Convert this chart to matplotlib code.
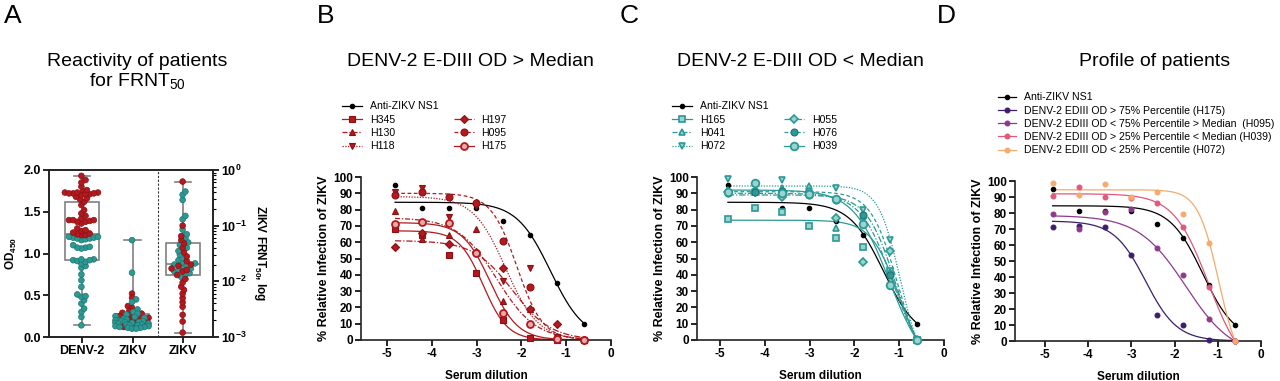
import numpy as np
import matplotlib.pyplot as plt
from matplotlib.lines import Line2D
from matplotlib.ticker import LogLocator, NullFormatter, FuncFormatter

plt.rcParams['font.family'] = ['Liberation Sans', 'DejaVu Sans']
plt.rcParams['mathtext.fontset'] = 'custom'
plt.rcParams['mathtext.rm'] = 'Liberation Sans'
plt.rcParams['mathtext.bf'] = 'Liberation Sans:bold'
plt.rcParams['mathtext.it'] = 'Liberation Sans:italic'
plt.rcParams['mathtext.default'] = 'regular'
plt.rcParams['axes.unicode_minus'] = False
plt.rcParams['axes.linewidth'] = 1.2
plt.rcParams['axes.edgecolor'] = '#222222'

RED = '#b3191e'
RED_EDGE = '#8a1014'
RED_LIGHT = '#e7a9a9'
TEAL = '#2b9a95'
TEAL_EDGE = '#1d7570'
TEAL_LIGHT = '#9ad3cf'
GREY = '#808080'

# ---- panel A: OD450 and ZIKV FRNT50 (red = above median, teal = below)
denv2_red = [1.93, 1.88, 1.85, 1.80, 1.76, 1.73, 1.72, 1.72, 1.71, 1.71, 1.70, 1.72,
             1.73, 1.74, 1.73, 1.68, 1.65, 1.66, 1.62, 1.58, 1.52, 1.48, 1.45, 1.42,
             1.40, 1.40, 1.40, 1.39, 1.38, 1.38, 1.36, 1.30, 1.28, 1.27, 1.25, 1.24,
             1.23, 1.22, 1.22]
denv2_teal = [1.20, 1.19, 1.18, 1.18, 1.17, 1.16, 1.20, 1.19, 1.10, 1.08, 1.07, 1.06,
              1.07, 0.93, 0.92, 0.91, 0.92, 0.90, 0.93, 0.88, 0.85, 0.83, 0.75, 0.68,
              0.60, 0.51, 0.49, 0.48, 0.44, 0.40, 0.34, 0.30, 0.24, 0.14]
zikv_red = [0.52, 0.47, 0.37, 0.35, 0.31, 0.29, 0.28, 0.26, 0.25, 0.23, 0.22, 0.21,
            0.20, 0.20, 0.19, 0.18, 0.17, 0.16, 0.15, 0.14, 0.12]
zikv_teal = [1.16, 0.77, 0.45, 0.42, 0.33, 0.30, 0.28, 0.27, 0.25, 0.24, 0.23, 0.22,
             0.21, 0.20, 0.20, 0.19, 0.19, 0.18, 0.18, 0.17, 0.17, 0.16, 0.16, 0.15,
             0.15, 0.14, 0.14, 0.13, 0.13, 0.12, 0.12, 0.11, 0.11, 0.10, 0.10]
frnt_red = [0.62, 0.10, 0.065, 0.055, 0.048, 0.040, 0.033, 0.028, 0.023, 0.020, 0.019,
            0.017, 0.016, 0.015, 0.013, 0.011, 0.0095, 0.008, 0.007, 0.006, 0.005,
            0.0042, 0.0035, 0.0025, 0.0019, 0.0012]
frnt_teal = [0.41, 0.36, 0.29, 0.15, 0.13, 0.085, 0.070, 0.060, 0.050, 0.045, 0.040,
             0.035, 0.030, 0.026, 0.024, 0.022, 0.021, 0.020, 0.019, 0.018, 0.017,
             0.016, 0.015, 0.014, 0.013, 0.012]

# ---- panels B-D: % relative infection vs log10 serum dilution
dilution = [-4.82, -4.21, -3.61, -3.01, -2.41, -1.81, -1.20, -0.60]
ns1 = [95, 81, 81, 81, 73, 64.5, 35, 10]
h345 = [68, 64.5, 52, 41, 12.5, 1.5, 0, 0]
h130 = [79, 62, 64.5, 68, 24, 19, 2.5, 0]
h118 = [91, 93, 75.5, 82, 36, 44, 2, 0]
h197 = [57, 65.5, 59, 54, 44, 19, 10, 0]
h095 = [89, 91, 88, 84, 61, 32.5, 1, 0]
h175 = [71, 72.5, 72, 53.5, 16.5, 10, 0.5, 0]
h165 = [74, 81, 78.5, 70, 62.5, 57, 42.5, 0]
h041 = [92, 91, 93, 94.5, 69, 76, 42, 0]
h072 = [98.5, 91, 98, 90, 93, 79.5, 61.5, 0]
h055 = [91, 91, 88, 91, 75, 48, 54.5, 0]
h076 = [90, 91, 91.5, 89, 86, 76.5, 40, 0]
h039 = [90.5, 96.5, 90, 89.5, 86.5, 71, 33.5, 0]
d_h175 = [71, 72, 71.5, 54, 16.5, 10, 0.5, 0]
d_h095 = [79.5, 70, 80.5, 82.5, 58, 41, 13.5, 0]

# fitted 4PL curves: (top, bottom, logIC50, hill)
fit_ns1 = (84.5, 0, -1.35, 1.15)
fit_h345 = (67, 0, -2.85, 1.6)
fit_h130 = (75, 0, -2.55, 1.0)
fit_h118 = (88, 0, -2.35, 1.2)
fit_h197 = (61, 0, -2.2, 1.0)
fit_h095 = (90, 0, -2.1, 1.5)
fit_h175 = (72, 0, -2.7, 1.4)
fit_h165 = (73.5, -20, -1.00, 1.40)
fit_h041 = (90, -20, -1.135, 1.22)
fit_h072 = (94.5, -20, -0.976, 1.79)
fit_h055 = (89, -20, -1.076, 1.36)
fit_h076 = (91, -20, -1.044, 1.48)
fit_h039 = (92, -20, -1.214, 1.08)
fit_d_h175 = (75, 0, -2.67, 1.19)
fit_d_h095 = (78.5, -10, -1.74, 0.79)


def logistic(x, top, bottom, logic50, hill):
    return bottom + (top - bottom) / (1 + 10 ** ((x - logic50) * hill))


def swarm_offsets(y_px, diam, max_off):
    y_px = np.asarray(y_px, dtype=float)
    xs = np.zeros(len(y_px))
    placed = []
    cands = np.arange(-max_off, max_off + 0.01, diam * 0.25)
    cands = sorted(cands, key=lambda c: (abs(c), -c))
    for i in np.argsort(y_px):
        y = y_px[i]
        near = [(px, py) for px, py in placed if abs(py - y) < diam]
        best, best_d = 0.0, -1
        for c in cands:
            d = min([np.hypot(c - px, y - py) for px, py in near] + [99])
            if d >= diam * 0.7:
                best = c
                break
            if d > best_d:
                best, best_d = c, d
        xs[i] = best
        placed.append((best, y))
    return xs


def bold_ticks(ax):
    for lbl in ax.get_xticklabels() + ax.get_yticklabels():
        lbl.set_fontweight('bold')


fig = plt.figure(figsize=(12.8, 3.81), dpi=100)

# ================= panel A =================
axA = fig.add_axes([49 / 1280, 44 / 381, 164 / 1280, 167 / 381])
axA2 = axA.twinx()
axA.set_xlim(-0.65, 2.59)
axA.set_ylim(0, 2.0)
axA2.set_yscale('log')
axA2.set_ylim(1e-3, 1)
PX_X = 50.5
DIAM = 5.5

bp_kw = dict(widths=0.66, whis=(0, 100), patch_artist=True, showfliers=False,
             boxprops=dict(facecolor='none', edgecolor=GREY, lw=1.2),
             whiskerprops=dict(color=GREY, lw=1.2),
             capprops=dict(color=GREY, lw=1.2),
             medianprops=dict(color=GREY, lw=1.2), zorder=1)
axA.boxplot([denv2_red + denv2_teal, zikv_red + zikv_teal], positions=[0, 1], **bp_kw)
axA2.boxplot([frnt_red + frnt_teal], positions=[2], **bp_kw)


def draw_swarm(ax, pos, red, teal, to_px, teal_on_top=False):
    vals = np.array(red + teal, dtype=float)
    cols = [RED] * len(red) + [TEAL] * len(teal)
    edges = [RED_EDGE] * len(red) + [TEAL_EDGE] * len(teal)
    off = swarm_offsets(to_px(vals), DIAM, 17) / PX_X
    order = np.arange(len(vals))
    if not teal_on_top:
        order = order[::-1]
    ax.scatter(pos + off[order], vals[order], s=17, c=[cols[k] for k in order],
               edgecolors=[edges[k] for k in order], linewidths=0.5, zorder=3,
               clip_on=False)


draw_swarm(axA, 0, denv2_red, denv2_teal, lambda v: v * 83.5)
draw_swarm(axA, 1, zikv_red, zikv_teal, lambda v: v * 83.5, teal_on_top=True)
draw_swarm(axA2, 2, frnt_red, frnt_teal, lambda v: np.log10(v) * 55.7)

axA.axvline(1.5, color='#333333', lw=0.8, ls=(0, (2, 1.5)))
axA.set_xticks([0, 1, 2])
axA.set_xticklabels(['DENV-2', 'ZIKV', 'ZIKV'], fontsize=9)
axA.set_yticks([0, 0.5, 1.0, 1.5, 2.0])
axA.set_yticklabels(['0.0', '0.5', '1.0', '1.5', '2.0'])
axA.tick_params(labelsize=9, width=1.2, length=4, pad=2)
axA2.yaxis.set_major_locator(LogLocator(base=10, numticks=10))
axA2.yaxis.set_minor_locator(LogLocator(base=10, subs=np.arange(2, 10), numticks=10))
axA2.yaxis.set_minor_formatter(NullFormatter())
axA2.yaxis.set_major_formatter(
    FuncFormatter(lambda v, p: r'$\mathbf{10^{%d}}$' % round(np.log10(v))))
axA2.tick_params(which='major', labelsize=9, width=1.2, length=4, pad=2)
axA2.tick_params(which='minor', width=0.8, length=2.5)
bold_ticks(axA)
bold_ticks(axA2)
axA.set_ylabel(r'OD$_{\mathbf{450}}$', fontsize=8.5, fontweight='bold', labelpad=3)
axA2.set_ylabel(r'ZIKV FRNT$_{\mathbf{50}}$, log', fontsize=8.5, fontweight='bold',
                rotation=270, labelpad=15)
fig.text(137 / 1280, 1 - 72 / 381, 'Reactivity of patients\nfor FRNT$_{50}$',
         ha='center', va='center', fontsize=14, linespacing=1.05)


# ================= panels B-D =================
def dose_axes(rect, xmin):
    ax = fig.add_axes(rect)
    ax.set_xlim(xmin, 0)
    ax.set_ylim(0, 100)
    ax.set_xticks(range(-5, 1))
    ax.set_yticks(range(0, 101, 10))
    ax.spines[['top', 'right']].set_visible(False)
    ax.tick_params(labelsize=8.5, width=1.2, length=4, pad=2)
    bold_ticks(ax)
    ax.set_ylabel('% Relative Infection of ZIKV', fontsize=9, fontweight='bold', labelpad=2)
    ax.set_xlabel('Serum dilution', fontsize=8.5, fontweight='bold', labelpad=7)
    return ax


xs = np.linspace(min(dilution), max(dilution), 300)


def series(ax, vals, fit, color, ls, marker, ms, mfc, mec, mew=0.8):
    curve = np.maximum(logistic(xs, *fit), 0)
    ax.plot(xs, curve, color=color, ls=ls, lw=0.9, zorder=2)
    ax.plot(dilution, vals, ls='none', marker=marker, ms=ms, mfc=mfc, mec=mec,
            mew=mew, zorder=3, clip_on=False)
    return Line2D([], [], color=color, ls=ls, lw=0.9, marker=marker, ms=ms,
                  mfc=mfc, mec=mec, mew=mew)


def ns1_series(ax):
    return series(ax, ns1, fit_ns1, 'black', '-', 'o', 3.2, 'black', 'black')


blank = Line2D([], [], color='none')
leg_kw = dict(frameon=False, fontsize=7.6, handlelength=1.9, handletextpad=0.7,
              labelspacing=0.32, columnspacing=1.5, borderpad=0, loc='upper left')

# ---- B
axB = dose_axes([361 / 1280, 41 / 381, 250 / 1280, 163 / 381], -5.58)
hb = [ns1_series(axB),
      series(axB, h345, fit_h345, RED, '-', 's', 5, RED, RED_EDGE),
      series(axB, h130, fit_h130, RED, (0, (4, 1.5, 1, 1.5)), '^', 5, RED, RED_EDGE),
      series(axB, h118, fit_h118, RED, (0, (1, 1.2)), 'v', 5, RED, RED_EDGE),
      blank,
      series(axB, h197, fit_h197, RED, (0, (5, 1.5, 1, 1.5)), 'D', 4, RED, RED_EDGE),
      series(axB, h095, fit_h095, RED, (0, (3, 2)), 'o', 5, RED, RED_EDGE),
      series(axB, h175, fit_h175, RED, '-', 'o', 5, RED_LIGHT, RED, 1.3)]
axB.legend(hb, ['Anti-ZIKV NS1', 'H345', 'H130', 'H118', '', 'H197', 'H095', 'H175'],
           ncol=2, bbox_to_anchor=(337 / 1280, 1 - 96 / 381),
           bbox_transform=fig.transFigure, **leg_kw)

# ---- C
axC = dose_axes([697 / 1280, 41 / 381, 247 / 1280, 163 / 381], -5.51)
hc = [ns1_series(axC),
      series(axC, h165, fit_h165, TEAL, '-', 's', 5, TEAL_LIGHT, TEAL, 1.2),
      series(axC, h041, fit_h041, TEAL, (0, (4, 1.5, 1, 1.5)), '^', 5, TEAL_LIGHT, TEAL, 1.2),
      series(axC, h072, fit_h072, TEAL, (0, (1, 1.2)), 'v', 5, TEAL_LIGHT, TEAL, 1.2),
      blank,
      series(axC, h055, fit_h055, TEAL, (0, (5, 1.5, 1, 1.5)), 'D', 4, TEAL_LIGHT, TEAL, 1.2),
      series(axC, h076, fit_h076, TEAL, (0, (3, 2)), 'o', 5, TEAL, TEAL_EDGE),
      series(axC, h039, fit_h039, TEAL, '-', 'o', 5.5, TEAL_LIGHT, TEAL, 1.3)]
axC.legend(hc, ['Anti-ZIKV NS1', 'H165', 'H041', 'H072', '', 'H055', 'H076', 'H039'],
           ncol=2, bbox_to_anchor=(667 / 1280, 1 - 96 / 381),
           bbox_transform=fig.transFigure, **leg_kw)

# ---- D
D_COLORS = ['#3b1e6e', '#8e3a8c', '#e0587a', '#f6aa6c']
axD = dose_axes([1015 / 1280, 40 / 381, 246 / 1280, 160 / 381], -5.69)
hd = [ns1_series(axD)]
for vals, fit, col in zip([d_h175, d_h095, h039, h072],
                          [fit_d_h175, fit_d_h095, fit_h039, fit_h072], D_COLORS):
    hd.append(series(axD, vals, fit, col, '-', 'o', 3.5, col, col))
axD.legend(hd, ['Anti-ZIKV NS1',
                'DENV-2 EDIII OD > 75% Percentile (H175)',
                'DENV-2 EDIII OD < 75% Percentile > Median  (H095)',
                'DENV-2 EDIII OD > 25% Percentile < Median (H039)',
                'DENV-2 EDIII OD < 25% Percentile (H072)'],
           bbox_to_anchor=(993 / 1280, 1 - 87 / 381), bbox_transform=fig.transFigure,
           **dict(leg_kw, handlelength=1.7, labelspacing=0.31))

# titles and panel letters
for x, t in [(470, 'DENV-2 E-DIII OD > Median'), (800, 'DENV-2 E-DIII OD < Median'),
             (1155, 'Profile of patients')]:
    fig.text(x / 1280, 1 - 62 / 381, t, ha='center', va='center', fontsize=14)
for x, t in [(13, 'A'), (326, 'B'), (629, 'C'), (946, 'D')]:
    fig.text(x / 1280, 1 - 16 / 381, t, ha='center', va='center', fontsize=19)

fig.savefig('out.png', dpi=100)
